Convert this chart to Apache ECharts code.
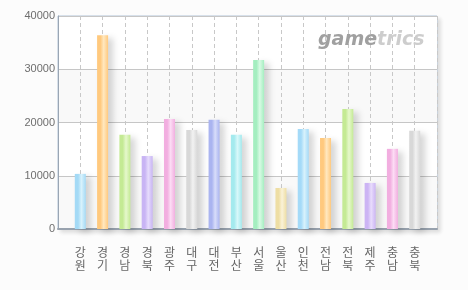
<!DOCTYPE html>
<html>
<head>
<meta charset="utf-8">
<script src="https://cdn.jsdelivr.net/npm/echarts@6/dist/echarts.min.js"></script>
<style>html,body{margin:0;padding:0;background:#fcfcfc;}#c{width:468px;height:290px;}</style>
</head>
<body>
<div id="c"></div>
<script>
const categories = ['강원','경기','경남','경북','광주','대구','대전','부산','서울','울산','인천','전남','전북','제주','충남','충북'];
const values = [10350, 36400, 17700, 13700, 20650, 18600, 20500, 17700, 31750, 7700, 18800, 17100, 22550, 8650, 15050, 18450];
const yTicks = [0, 10000, 20000, 30000, 40000];
const barColors = ['#a4daf6','#ffc97e','#c4ea94','#c8b4f4','#f2aee0','#d8d8d8','#aab4f0','#a4eaee','#a4eec0','#eedea4','#a4daf8','#ffc97e','#c4ea94','#ccb4f4','#f2aee0','#d8d8d8'];
const barLights = ['#d8f2fc','#ffe8c0','#e6f8cc','#e6dcfc','#fcdcf4','#f2f2f2','#d8ddfa','#d8f8fa','#d8fae4','#faf2d8','#d8f2fc','#ffe8c0','#e6f8cc','#e8dcfc','#fcdcf4','#f2f2f2'];

const chart = echarts.init(document.getElementById('c'), null, {renderer: 'canvas'});
const xData = [''].concat(categories).concat(['']);
const sData = [null].concat(values.map((v, i) => ({
  value: v,
  itemStyle: {
    color: new echarts.graphic.LinearGradient(0, 0, 1, 0, [
      {offset: 0, color: barColors[i]},
      {offset: 0.3, color: barColors[i]},
      {offset: 0.6, color: barLights[i]},
      {offset: 1, color: barColors[i]}
    ])
  }
}))).concat([null]);

chart.setOption({
  backgroundColor: '#fcfcfc',
  animation: false,
  grid: {left: 58, right: 31, top: 16, bottom: 61, show: true, backgroundColor: '#ffffff', borderColor: '#b4c6da', borderWidth: 1,
    shadowColor: 'rgba(0,0,0,0.12)', shadowBlur: 4, shadowOffsetX: 3, shadowOffsetY: 3},
  graphic: [{
    type: 'text', left: 318, top: 31, z: 1,
    style: {
      text: '{a|game}{b|trics}',
      rich: {
        a: {fontFamily: 'DejaVu Sans', fontWeight: 'bold', fontStyle: 'italic', fontSize: 19, fill: '#a0a0a0'},
        b: {fontFamily: 'DejaVu Sans', fontWeight: 'bold', fontStyle: 'italic', fontSize: 19, fill: '#cdcdcd'}
      }
    }
  }],
  xAxis: {
    type: 'category', data: xData, boundaryGap: false,
    axisLine: {lineStyle: {color: '#98a2ae', width: 2}},
    axisTick: {show: false},
    axisLabel: {interval: 0, margin: 17, color: '#666666', fontSize: 12, lineHeight: 13, fontFamily: 'Noto Sans CJK KR',
      formatter: v => v.split('').join('\n')},
    splitLine: {show: true, lineStyle: {color: '#c8c8c8', type: [4, 3]}}
  },
  yAxis: {
    type: 'value', min: yTicks[0], max: yTicks[yTicks.length - 1], interval: yTicks[1] - yTicks[0],
    axisLine: {show: true, lineStyle: {color: '#9aa6b4', width: 1}},
    axisTick: {show: false},
    axisLabel: {color: '#6e6e6e', fontSize: 11, margin: 3, fontFamily: 'Liberation Sans', formatter: v => String(v)},
    splitLine: {lineStyle: {color: '#c6c6c6', width: 1}},
    splitArea: {show: true, areaStyle: {color: ['#f9f9f9', '#ffffff']}}
  },
  series: [{
    type: 'bar', data: sData, barWidth: 11, z: 3,
    itemStyle: {shadowColor: 'rgba(0,0,0,0.16)', shadowBlur: 6, shadowOffsetX: 5, shadowOffsetY: 3}
  }]
});
</script>
</body>
</html>
